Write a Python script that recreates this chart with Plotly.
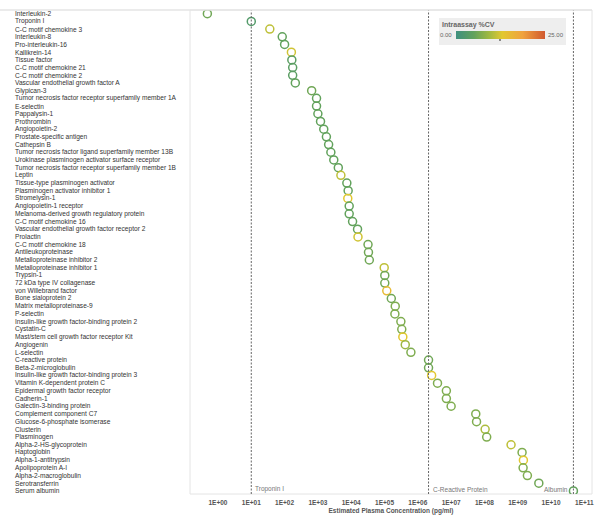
import math
import plotly.graph_objects as go

proteins = [
    "Interleukin-2", "Troponin I", "C-C motif chemokine 3", "Interleukin-8",
    "Pro-interleukin-16", "Kallikrein-14", "Tissue factor", "C-C motif chemokine 21",
    "C-C motif chemokine 2", "Vascular endothelial growth factor A", "Glypican-3",
    "Tumor necrosis factor receptor superfamily member 1A", "E-selectin", "Pappalysin-1",
    "Prothrombin", "Angiopoietin-2", "Prostate-specific antigen", "Cathepsin B",
    "Tumor necrosis factor ligand superfamily member 13B",
    "Urokinase plasminogen activator surface receptor",
    "Tumor necrosis factor receptor superfamily member 1B", "Leptin",
    "Tissue-type plasminogen activator", "Plasminogen activator inhibitor 1",
    "Stromelysin-1", "Angiopoietin-1 receptor", "Melanoma-derived growth regulatory protein",
    "C-C motif chemokine 16", "Vascular endothelial growth factor receptor 2", "Prolactin",
    "C-C motif chemokine 18", "Antileukoproteinase", "Metalloproteinase inhibitor 2",
    "Metalloproteinase inhibitor 1", "Trypsin-1", "72 kDa type IV collagenase",
    "von Willebrand factor", "Bone sialoprotein 2", "Matrix metalloproteinase-9",
    "P-selectin", "Insulin-like growth factor-binding protein 2", "Cystatin-C",
    "Mast/stem cell growth factor receptor Kit", "Angiogenin", "L-selectin",
    "C-reactive protein", "Beta-2-microglobulin", "Insulin-like growth factor-binding protein 3",
    "Vitamin K-dependent protein C", "Epidermal growth factor receptor", "Cadherin-1",
    "Galectin-3-binding protein", "Complement component C7", "Glucose-6-phosphate isomerase",
    "Clusterin", "Plasminogen", "Alpha-2-HS-glycoprotein", "Haptoglobin",
    "Alpha-1-antitrypsin", "Apolipoprotein A-I", "Alpha-2-macroglobulin",
    "Serotransferrin", "Serum albumin",
]

concentration = [
    0.48, 10, 36, 85, 100, 160, 165, 175, 175, 210,
    650, 910, 910, 1000, 1200, 1500, 1800, 2100, 2450, 3000,
    4100, 4900, 7400, 8100, 7900, 8700, 8700, 11000, 15500, 16000,
    32000, 33000, 35000, 98000, 102000, 102000, 117000, 160000, 210000, 205000,
    310000, 330000, 355000, 420000, 620000, 2.1e6, 2.1e6, 2.6e6, 3.9e6, 7.2e6,
    7.2e6, 1.0e7, 5.5e7, 5.8e7, 1.05e8, 1.17e8, 6.3e8, 1.35e9, 1.48e9, 1.45e9,
    1.95e9, 4.3e9, 4.7e10,
]

intraassay_cv = [
    6, 3, 11, 5, 5, 12, 4, 4, 4, 5,
    6, 5, 5, 5, 5, 5, 5, 5, 5, 5,
    5, 11, 5, 5, 13, 5, 5, 5, 5, 12,
    6, 6, 6, 11, 6, 6, 15, 6, 7, 7,
    7, 7, 13, 9, 7, 6, 6, 13, 7, 7,
    7, 7, 7, 7, 10, 7, 11, 7, 13, 7,
    7, 6, 5,
]

tick_vals = [1e0, 1e1, 1e2, 1e3, 1e4, 1e5, 1e6, 1e7, 1e8, 1e9, 1e10, 1e11]
tick_text = ["1E+00", "1E+01", "1E+02", "1E+03", "1E+04", "1E+05",
             "1E+06", "1E+07", "1E+08", "1E+09", "1E+10", "1E+11"]

reference_names = ["Troponin I", "C-Reactive Protein", "Albumin"]
reference_values = [concentration[1], concentration[45], concentration[62]]

cv_min, cv_max = 0, 25
cv_labels = ["0.00", "25.00"]

colorscale = [
    [0.0, "#3f9080"], [0.2, "#62a25c"], [0.38, "#a3ba40"],
    [0.52, "#e2c830"], [0.75, "#f0a23e"], [1.0, "#d0582f"],
]

FONT = "Liberation Sans, Arial, sans-serif"
W, H = 602, 525
ML, MR, MT, MB = 190, 10, 10, 31
PW, PH = W - ML - MR, H - MT - MB


def px_x(px):
    return (px - ML) / PW


def px_y(py):
    return (PH - (py - MT)) / PH


y_idx = list(range(len(proteins)))

fig = go.Figure()
fig.add_trace(go.Scatter(
    x=concentration, y=y_idx, mode="markers",
    marker=dict(symbol="circle-open", size=8, color=intraassay_cv,
                cmin=cv_min, cmax=cv_max, colorscale=colorscale,
                line=dict(width=1.5),
                showscale=True,
                colorbar=dict(orientation="h", lenmode="pixels", len=89,
                              thickness=8, x=px_x(500.5), xanchor="center",
                              y=px_y(35), yanchor="middle", xpad=0, ypad=0,
                              outlinewidth=0, showticklabels=False, ticks="")),
    hovertext=proteins, showlegend=False,
))

# reference lines
for name, val in zip(reference_names, reference_values):
    fig.add_shape(type="line", xref="x", yref="paper", x0=val, x1=val, y0=0, y1=1,
                  line=dict(color="#666666", width=1, dash="2px,1.5px"))
    right = name == "Albumin"
    fig.add_annotation(x=math.log10(val), xref="x", y=0, yref="paper", text=name,
                       showarrow=False, xanchor="right" if right else "left",
                       yanchor="bottom", xshift=-3 if right else 2, yshift=-1,
                       font=dict(family=FONT, size=6.5, color="#777777"))

# protein labels, left aligned
for i, p in enumerate(proteins):
    fig.add_annotation(x=0, xref="paper", y=i, yref="y", text=p, showarrow=False,
                       xanchor="left", xshift=-(ML - 13), yanchor="middle",
                       font=dict(family=FONT, size=6.6, color="#333333"))

# frame
fig.add_shape(type="rect", xref="paper", yref="paper", x0=0, x1=1, y0=0, y1=1,
              line=dict(color="#e4e4e4", width=1), layer="below")
fig.add_shape(type="line", xref="paper", yref="paper", x0=-ML / PW, x1=1, y0=1, y1=1,
              line=dict(color="#e4e4e4", width=1.5))

# colour legend box
fig.add_shape(type="rect", xref="paper", yref="paper", x0=px_x(439), x1=px_x(566),
              y0=px_y(45), y1=px_y(18), fillcolor="#eeeeee", line=dict(width=0), layer="below")
fig.add_annotation(x=px_x(440), xref="paper", y=px_y(25), yref="paper", text="<b>Intraassay %CV</b>",
                   showarrow=False, xanchor="left", yanchor="middle",
                   font=dict(family=FONT, size=7, color="#666666"))
fig.add_annotation(x=px_x(454), xref="paper", y=px_y(35), yref="paper", text=cv_labels[0],
                   showarrow=False, xanchor="right", yanchor="middle",
                   font=dict(family=FONT, size=6, color="#666666"))
fig.add_annotation(x=px_x(546), xref="paper", y=px_y(35), yref="paper", text=cv_labels[1],
                   showarrow=False, xanchor="left", yanchor="middle",
                   font=dict(family=FONT, size=6, color="#666666"))
fig.add_shape(type="line", xref="paper", yref="paper", x0=px_x(500), x1=px_x(500),
              y0=px_y(41), y1=px_y(36), line=dict(color="#222222", width=1))

fig.update_layout(
    width=W, height=H, margin=dict(l=ML, r=MR, t=MT, b=MB, autoexpand=False),
    paper_bgcolor="white", plot_bgcolor="white",
    font=dict(family=FONT),
    xaxis=dict(type="log", range=[-0.84, 11.23], tickvals=tick_vals,
               ticktext=["<b>%s</b>" % t for t in tick_text],
               showgrid=False, zeroline=False, showline=False, ticks="",
               automargin=False, ticklabeloverflow="allow", ticklabelstandoff=3,
               tickfont=dict(family=FONT, size=6.5, color="#555555"),
               title=dict(text="<b>Estimated Plasma Concentration (pg/ml)</b>", standoff=3,
                          font=dict(family=FONT, size=6.5, color="#555555"))),
    yaxis=dict(range=[62.4, -0.48], showticklabels=False, showgrid=False,
               zeroline=False, showline=False, ticks="", automargin=False),
)

fig.write_html("out.html", config={"displayModeBar": False},
               post_script="document.body.style.margin='0';")
